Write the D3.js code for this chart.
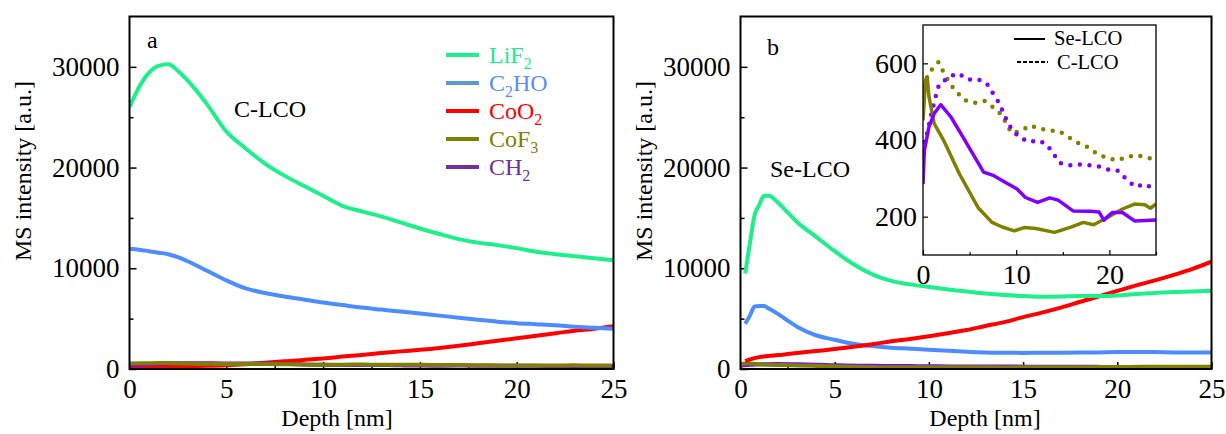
<!DOCTYPE html>
<html><head><meta charset="utf-8">
<script src="https://cdn.jsdelivr.net/npm/d3@7"></script>
<style>
body{margin:0;background:#fff}
svg{display:block}
text{font-family:"Liberation Serif","Times New Roman",serif}
</style>
</head><body>
<svg id="chart" width="1226" height="434"></svg>
<script>
// ---------------- DATA ----------------
const xTicksMain = [0, 5, 10, 15, 20, 25];
const yTicksMain = [0, 10000, 20000, 30000];
const xTicksInset = [0, 10, 20];
const yTicksInset = [200, 400, 600];

const seriesNames = ["LiF_2", "C_2HO", "CoO_2", "CoF_3", "CH_2"];

// Panel a (C-LCO)
const depthA = [0,0.5,1,1.5,2,2.5,3,4,5,6,7,8,9,10,11,12,13,14,15,16,17,18,19,20,21,22,23,24,25];
const lif2A  = [26000,28000,29400,30100,30250,29600,28650,26300,23600,21900,20400,19200,18200,17200,16200,15650,15150,14550,13950,13400,12900,12550,12300,12000,11650,11400,11200,11000,10800];
const c2hoA  = [11950,11850,11700,11550,11400,11100,10700,9750,8800,8000,7550,7200,6900,6600,6350,6100,5900,5700,5500,5300,5100,4900,4700,4550,4450,4350,4200,4100,4000];
const coo2A  = [200,210,220,235,250,265,280,320,380,480,620,760,900,1050,1230,1400,1580,1750,1900,2080,2300,2550,2800,3050,3300,3550,3800,4000,4250];

// Panel b (Se-LCO)
const depthB = [0.25,0.5,0.75,1,1.25,1.5,2,2.5,3,4,5,6,7,8,9,10,11,12,13,14,15,16,17,18,19,20,21,22,23,24,25];
const lif2B  = [9500,12500,15300,16300,17200,17200,16500,15550,14600,13150,11700,10400,9400,8750,8400,8150,7900,7700,7500,7350,7250,7180,7200,7250,7250,7300,7450,7550,7650,7700,7780];
const c2hoB  = [4500,5300,6200,6250,6250,6000,5450,4800,4200,3350,2900,2500,2280,2120,2020,1920,1820,1720,1650,1620,1600,1620,1620,1630,1650,1680,1680,1680,1650,1650,1650];
const coo2B  = [780,950,1080,1180,1250,1300,1380,1480,1580,1780,1980,2200,2450,2750,2980,3250,3550,3870,4270,4650,5150,5600,6100,6650,7200,7750,8300,8800,9350,9950,10650];

// CoF3 / CH2 low-intensity series (shown in inset)
const seCoF3Depth = [0,0.27,0.45,0.64,1.2,2.3,3.9,5.9,7.4,8.5,9.8,10.9,12.1,14.1,15.8,17.2,18.3,19.8,21.4,22.7,23.8,24.4,25];
const seCoF3      = [451,556,565,513,443,395,312,224,185,173,163,172,169,159,172,185,179,198,220,233,231,222,233];
const seCH2Depth  = [0,0.15,0.64,1.2,1.9,3.0,4.5,6.5,7.6,9.0,10.1,11.0,12.3,13.6,14.5,16.1,18.0,18.9,19.4,20.3,21.4,22.7,25];
const seCH2       = [285,373,434,469,492,460,399,316,307,287,272,250,237,249,243,215,214,212,191,211,211,189,191];
const cCoF3Depth  = [0,0.75,1.66,2.2,2.75,3.4,4.5,5.5,6.6,7.5,8.4,9.5,10.5,11.5,12.5,13.6,14.6,15.6,16.6,17.7,18.7,19.7,20.8,21.8,22.9,23.9,24.9];
const cCoF3       = [540,579,603,577,553,530,504,497,502,486,467,418,423,438,430,425,423,408,393,381,364,353,347,355,361,355,349];
const cCH2Depth   = [0,0.45,0.9,1.4,1.7,2.8,3.8,4.8,5.9,6.8,7.4,8.1,8.6,9.0,9.6,10.4,11.4,12.4,13.3,14.0,14.7,15.7,16.8,17.9,18.9,19.9,20.9,21.9,22.8,23.8,24.7,25];
const cCH2        = [368,418,469,517,543,565,574,558,558,549,526,499,473,450,425,406,395,399,388,364,340,334,336,334,331,323,320,296,278,285,274,270];

// ---------------- STYLE ----------------
const lineColors = {LiF2:"#1df08a", C2HO:"#4d8cff", CoO2:"#ff0000", CoF3:"#808000", CH2:"#8000ff"};
const legendLineColors = ["#1df08a","#5b9bd5","#ff0000","#808000","#7030a0"];
const legendTextColors = ["#1deb8a","#5a8ef2","#ff0000","#808000","#7030a0"];

const svg = d3.select("#chart");
const zip = (xs, ys) => xs.map((d, i) => [d, ys[i]]);

function richText(sel, str, subSize, shift) {
  const parts = [];
  for (let i = 0; i < str.length; i++) {
    if (str[i] === "_") { parts.push({t: str[i+1], sub: true}); i++; }
    else {
      if (parts.length && !parts[parts.length-1].sub) parts[parts.length-1].t += str[i];
      else parts.push({t: str[i], sub: false});
    }
  }
  let lowered = false;
  parts.forEach(p => {
    const ts = sel.append("tspan").text(p.t);
    if (p.sub && !lowered) { ts.attr("dy", shift).attr("font-size", subSize); lowered = true; }
    else if (!p.sub && lowered) { ts.attr("dy", -shift); lowered = false; }
  });
}

function drawPanel(box, clipId) {
  const g = svg.append("g");
  const x = d3.scaleLinear().domain([0, 25]).range([box.left, box.right]);
  const y = d3.scaleLinear().domain([0, 35000]).range([box.bottom, box.top]);
  g.append("clipPath").attr("id", clipId).append("rect")
    .attr("x", box.left).attr("y", box.top).attr("width", box.right - box.left).attr("height", box.bottom - box.top);

  // minor ticks
  g.append("g").attr("transform", `translate(0,${box.bottom})`)
    .call(d3.axisBottom(x).tickValues([2.5,7.5,12.5,17.5,22.5]).tickSize(-4).tickFormat(""))
    .call(s => s.select(".domain").remove());
  g.append("g").attr("transform", `translate(${box.left},0)`)
    .call(d3.axisLeft(y).tickValues([5000,15000,25000]).tickSize(-4).tickFormat(""))
    .call(s => s.select(".domain").remove());
  // major ticks
  g.append("g").attr("transform", `translate(0,${box.bottom})`)
    .call(d3.axisBottom(x).tickValues(xTicksMain).tickSize(-7).tickPadding(10).tickFormat(d3.format("d")))
    .call(s => s.select(".domain").remove())
    .call(s => s.selectAll("text").attr("font-size", 27).attr("font-family", '"Liberation Serif",serif').attr("fill", "#000"));
  g.append("g").attr("transform", `translate(${box.left},0)`)
    .call(d3.axisLeft(y).tickValues(yTicksMain).tickSize(-7).tickPadding(10).tickFormat(d3.format("d")))
    .call(s => s.select(".domain").remove())
    .call(s => s.selectAll("text").attr("font-size", 27).attr("font-family", '"Liberation Serif",serif').attr("fill", "#000"));
  g.selectAll(".tick line").attr("stroke", "#000").attr("stroke-width", 1.5);

  const lines = g.append("g").attr("clip-path", `url(#${clipId})`);
  return {g, x, y, lines};
}

function addLine(p, data, color, width, curve) {
  p.lines.append("path").datum(data)
    .attr("fill", "none").attr("stroke", color).attr("stroke-width", width)
    .attr("stroke-linejoin", "round")
    .attr("d", d3.line().x(d => p.x(d[0])).y(d => p.y(d[1])).curve(curve || d3.curveMonotoneX));
}

function frame(p, box) {
  p.g.append("rect").attr("x", box.left).attr("y", box.top)
    .attr("width", box.right - box.left).attr("height", box.bottom - box.top)
    .attr("fill", "none").attr("stroke", "#000").attr("stroke-width", 2);
}

// ---------------- PANEL A ----------------
const boxA = {left: 129.5, right: 613.5, top: 16.5, bottom: 369};
const pA = drawPanel(boxA, "clipA");
addLine(pA, zip(depthA, coo2A), lineColors.CoO2, 4);
addLine(pA, zip(cCH2Depth, cCH2), lineColors.CH2, 4);
addLine(pA, zip(cCoF3Depth, cCoF3), lineColors.CoF3, 4);
addLine(pA, zip(depthA, c2hoA), lineColors.C2HO, 4);
addLine(pA, zip(depthA, lif2A), lineColors.LiF2, 4);
frame(pA, boxA);

svg.append("text").attr("x", 147).attr("y", 48).attr("font-size", 24).text("a");
svg.append("text").attr("x", 234).attr("y", 117).attr("font-size", 24).text("C-LCO");

// legend
const legY = [55, 83, 111, 139, 167];
seriesNames.forEach((name, i) => {
  svg.append("line").attr("x1", 446).attr("x2", 479).attr("y1", legY[i]).attr("y2", legY[i])
    .attr("stroke", legendLineColors[i]).attr("stroke-width", 4);
  const t = svg.append("text").attr("x", 489).attr("y", legY[i] + 8).attr("font-size", 24)
    .attr("fill", legendTextColors[i]);
  richText(t, name, 16, 6);
});

svg.append("text").attr("transform", "translate(31,171) rotate(-90)").attr("text-anchor", "middle")
  .attr("font-size", 24).text("MS intensity [a.u.]");
svg.append("text").attr("x", 337).attr("y", 426).attr("text-anchor", "middle")
  .attr("font-size", 24).text("Depth [nm]");

// ---------------- PANEL B ----------------
const boxB = {left: 740.5, right: 1211.5, top: 16.5, bottom: 369};
const pB = drawPanel(boxB, "clipB");
addLine(pB, zip(seCH2Depth, seCH2), lineColors.CH2, 4);
addLine(pB, zip(seCoF3Depth, seCoF3), lineColors.CoF3, 4);
addLine(pB, zip(depthB, c2hoB), lineColors.C2HO, 4);
addLine(pB, zip(depthB, coo2B), lineColors.CoO2, 4);
addLine(pB, zip(depthB, lif2B), lineColors.LiF2, 4);
frame(pB, boxB);

svg.append("text").attr("x", 767).attr("y", 55).attr("font-size", 24).text("b");
svg.append("text").attr("x", 770).attr("y", 177).attr("font-size", 24).text("Se-LCO");
svg.append("text").attr("transform", "translate(652,171) rotate(-90)").attr("text-anchor", "middle")
  .attr("font-size", 24).text("MS intensity [a.u.]");
svg.append("text").attr("x", 985).attr("y", 426).attr("text-anchor", "middle")
  .attr("font-size", 24).text("Depth [nm]");

// ---------------- INSET ----------------
const boxI = {left: 923, right: 1156, top: 25, bottom: 255};
const gi = svg.append("g");
gi.append("rect").attr("x", boxI.left).attr("y", boxI.top).attr("width", boxI.right - boxI.left)
  .attr("height", boxI.bottom - boxI.top).attr("fill", "#fff");
const xi = d3.scaleLinear().domain([0, 25]).range([boxI.left, boxI.right]);
const yi = d3.scaleLinear().domain([100, 700]).range([boxI.bottom, boxI.top]);
gi.append("clipPath").attr("id", "clipI").append("rect")
  .attr("x", boxI.left).attr("y", boxI.top).attr("width", boxI.right - boxI.left).attr("height", boxI.bottom - boxI.top);

gi.append("g").attr("transform", `translate(0,${boxI.bottom})`)
  .call(d3.axisBottom(xi).tickValues([5, 15, 25]).tickSize(-3).tickFormat(""))
  .call(s => s.select(".domain").remove());
gi.append("g").attr("transform", `translate(0,${boxI.bottom})`)
  .call(d3.axisBottom(xi).tickValues(xTicksInset).tickSize(-5).tickPadding(9).tickFormat(d3.format("d")))
  .call(s => s.select(".domain").remove())
  .call(s => s.selectAll("text").attr("font-size", 28).attr("font-family", '"Liberation Serif",serif').attr("fill", "#000"));
gi.append("g").attr("transform", `translate(${boxI.left},0)`)
  .call(d3.axisLeft(yi).tickValues(yTicksInset).tickSize(-5).tickPadding(6).tickFormat(d3.format("d")))
  .call(s => s.select(".domain").remove())
  .call(s => s.selectAll("text").attr("font-size", 28).attr("font-family", '"Liberation Serif",serif').attr("fill", "#000"));
gi.selectAll(".tick line").attr("stroke", "#000").attr("stroke-width", 1.2);

const gil = gi.append("g").attr("clip-path", "url(#clipI)");
const lineI = d3.line().x(d => xi(d[0])).y(d => yi(d[1]));
function addInset(data, color, dotted) {
  const p = gil.append("path").datum(data).attr("fill", "none").attr("stroke", color)
    .attr("d", lineI).attr("stroke-linejoin", "round");
  if (dotted) p.attr("stroke-width", 4.5).attr("stroke-linecap", "round").attr("stroke-dasharray", "0 9.6");
  else p.attr("stroke-width", 3.5);
}
addInset(zip(cCoF3Depth, cCoF3), lineColors.CoF3, true);
addInset(zip(cCH2Depth, cCH2), lineColors.CH2, true);
addInset(zip(seCoF3Depth, seCoF3), lineColors.CoF3, false);
addInset(zip(seCH2Depth, seCH2), lineColors.CH2, false);

gi.append("rect").attr("x", boxI.left).attr("y", boxI.top).attr("width", boxI.right - boxI.left)
  .attr("height", boxI.bottom - boxI.top).attr("fill", "none").attr("stroke", "#000").attr("stroke-width", 1.3);

// inset legend
gi.append("line").attr("x1", 1014).attr("x2", 1045).attr("y1", 39).attr("y2", 39).attr("stroke", "#000").attr("stroke-width", 2);
gi.append("text").attr("x", 1054).attr("y", 45).attr("font-size", 20.5).text("Se-LCO");
gi.append("line").attr("x1", 1017).attr("x2", 1048).attr("y1", 62).attr("y2", 62).attr("stroke", "#000")
  .attr("stroke-width", 2).attr("stroke-dasharray", "4 2");
gi.append("text").attr("x", 1057).attr("y", 69).attr("font-size", 20.5).text("C-LCO");
</script>
</body></html>
